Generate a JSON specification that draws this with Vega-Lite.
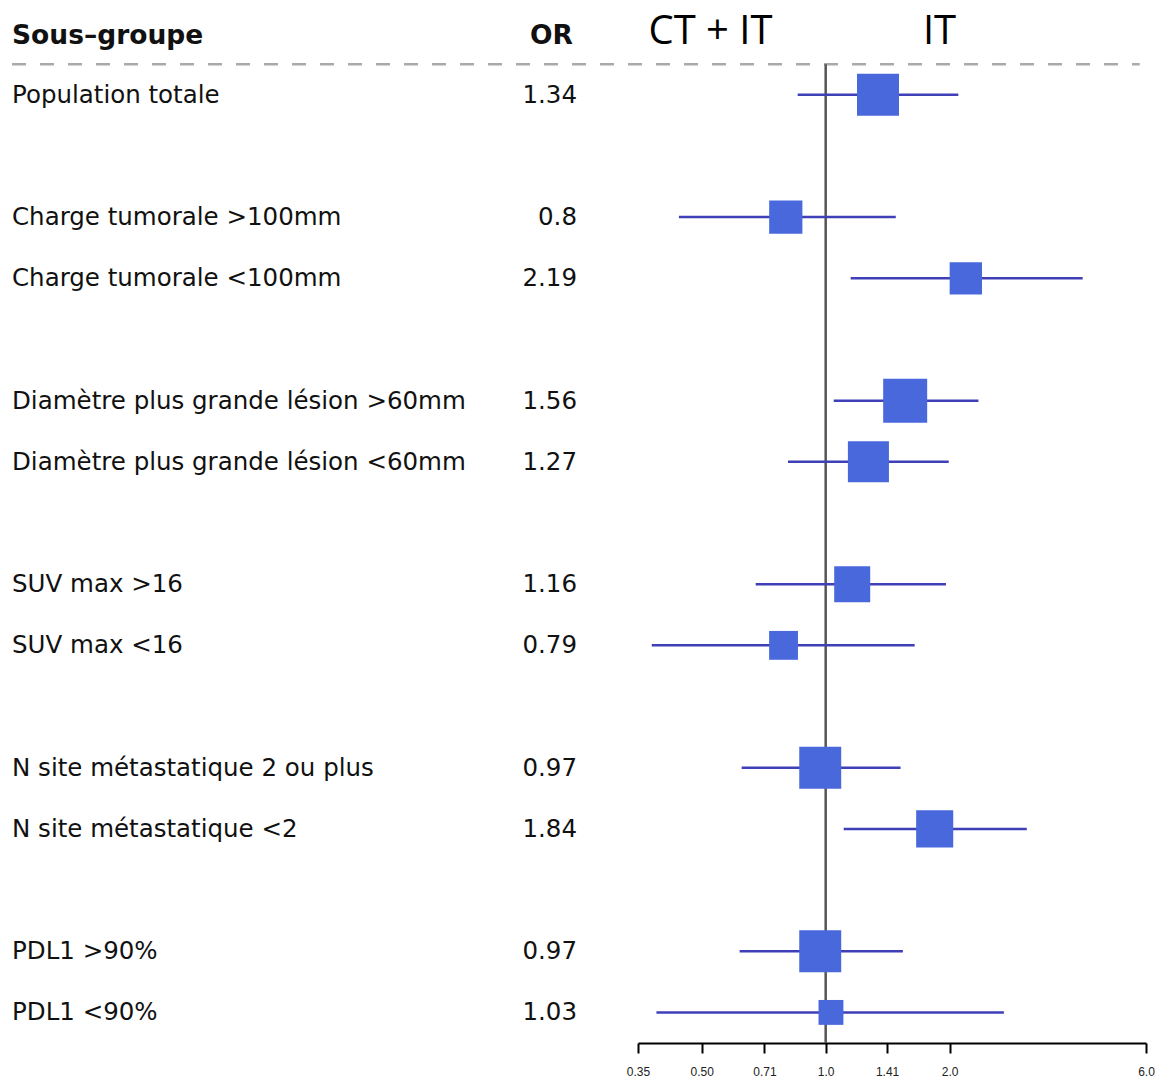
{
  "$schema": "https://vega.github.io/schema/vega-lite/v6.json",
  "background": "white",
  "padding": {"left": 10, "top": 3, "right": 0, "bottom": 0},
  "spacing": 61,
  "bounds": "flush",
  "config": {"view": {"stroke": null}},
  "datasets": {
    "rows": [
      {"label": "Population totale", "or": 1.34, "lo": 0.855, "hi": 2.10, "w": 91},
      {"label": "Charge tumorale >100mm", "or": 0.8, "lo": 0.44, "hi": 1.48, "w": 57},
      {"label": "Charge tumorale <100mm", "or": 2.19, "lo": 1.15, "hi": 4.21, "w": 54},
      {"label": "Diamètre plus grande lésion >60mm", "or": 1.56, "lo": 1.046, "hi": 2.35, "w": 100},
      {"label": "Diamètre plus grande lésion <60mm", "or": 1.27, "lo": 0.81, "hi": 1.99, "w": 87},
      {"label": "SUV max >16", "or": 1.16, "lo": 0.676, "hi": 1.96, "w": 67},
      {"label": "SUV max <16", "or": 0.79, "lo": 0.378, "hi": 1.645, "w": 43},
      {"label": "N site métastatique 2 ou plus", "or": 0.97, "lo": 0.625, "hi": 1.52, "w": 91},
      {"label": "N site métastatique <2", "or": 1.84, "lo": 1.106, "hi": 3.08, "w": 71},
      {"label": "PDL1 >90%", "or": 0.97, "lo": 0.618, "hi": 1.54, "w": 91},
      {"label": "PDL1 <90%", "or": 1.03, "lo": 0.388, "hi": 2.71, "w": 32}
    ],
    "heads": [
      {"head": "Sous–groupe", "col": "label"},
      {"head": "OR", "col": "or"},
      {"head": "CT + IT", "col": "left"},
      {"head": "IT", "col": "right"}
    ]
  },
  "hconcat": [
    {
      "width": 565,
      "height": 1040,
      "layer": [
        {
          "data": {"values": [{"line": "sep"}]},
          "mark": {"type": "rule", "color": "#aaaaaa", "strokeWidth": 2.5, "strokeDash": [14, 14]},
          "encoding": {
            "x": {"datum": 0, "type": "quantitative", "scale": {"domain": [0, 1], "nice": false, "zero": false}, "axis": null},
            "x2": {"datum": 1.996},
            "y": {"datum": "Population totale", "type": "nominal", "bandPosition": 0, "scale": {"type": "band", "domain": ["_h", "Population totale", "_s1", "Charge tumorale >100mm", "Charge tumorale <100mm", "_s2", "Diamètre plus grande lésion >60mm", "Diamètre plus grande lésion <60mm", "_s3", "SUV max >16", "SUV max <16", "_s4", "N site métastatique 2 ou plus", "N site métastatique <2", "_s5", "PDL1 >90%", "PDL1 <90%"], "paddingInner": 0, "paddingOuter": 0}, "axis": null}
          }
        },
        {
          "data": {"name": "rows"},
          "mark": {"type": "text", "align": "left", "baseline": "middle", "font": "DejaVu Sans", "fontSize": 24.5, "color": "#111111", "dy": 1},
          "encoding": {
            "x": {"datum": 0, "type": "quantitative", "scale": {"domain": [0, 1], "nice": false, "zero": false}, "axis": null},
            "y": {"field": "label", "type": "nominal", "scale": {"type": "band", "domain": ["_h", "Population totale", "_s1", "Charge tumorale >100mm", "Charge tumorale <100mm", "_s2", "Diamètre plus grande lésion >60mm", "Diamètre plus grande lésion <60mm", "_s3", "SUV max >16", "SUV max <16", "_s4", "N site métastatique 2 ou plus", "N site métastatique <2", "_s5", "PDL1 >90%", "PDL1 <90%"], "paddingInner": 0, "paddingOuter": 0}, "axis": null},
            "text": {"field": "label", "type": "nominal"}
          }
        },
        {
          "data": {"name": "rows"},
          "mark": {"type": "text", "align": "right", "baseline": "middle", "font": "DejaVu Sans", "fontSize": 24.5, "color": "#111111", "dy": 1},
          "encoding": {
            "x": {"datum": 1, "type": "quantitative", "scale": {"domain": [0, 1], "nice": false, "zero": false}, "axis": null},
            "y": {"field": "label", "type": "nominal", "scale": {"type": "band", "domain": ["_h", "Population totale", "_s1", "Charge tumorale >100mm", "Charge tumorale <100mm", "_s2", "Diamètre plus grande lésion >60mm", "Diamètre plus grande lésion <60mm", "_s3", "SUV max >16", "SUV max <16", "_s4", "N site métastatique 2 ou plus", "N site métastatique <2", "_s5", "PDL1 >90%", "PDL1 <90%"], "paddingInner": 0, "paddingOuter": 0}, "axis": null},
            "text": {"field": "or", "type": "nominal"}
          }
        },
        {
          "data": {"name": "heads"},
          "transform": [{"filter": "datum.col == 'label'"}],
          "mark": {"type": "text", "align": "left", "baseline": "middle", "font": "DejaVu Sans", "fontWeight": "bold", "fontSize": 26.5, "color": "#111111", "dy": 2},
          "encoding": {
            "x": {"datum": 0, "type": "quantitative", "scale": {"domain": [0, 1], "nice": false, "zero": false}, "axis": null},
            "y": {"datum": "_h", "type": "nominal", "scale": {"type": "band", "domain": ["_h", "Population totale", "_s1", "Charge tumorale >100mm", "Charge tumorale <100mm", "_s2", "Diamètre plus grande lésion >60mm", "Diamètre plus grande lésion <60mm", "_s3", "SUV max >16", "SUV max <16", "_s4", "N site métastatique 2 ou plus", "N site métastatique <2", "_s5", "PDL1 >90%", "PDL1 <90%"], "paddingInner": 0, "paddingOuter": 0}, "axis": null},
            "text": {"field": "head", "type": "nominal"}
          }
        },
        {
          "data": {"name": "heads"},
          "transform": [{"filter": "datum.col == 'or'"}],
          "mark": {"type": "text", "align": "right", "baseline": "middle", "font": "DejaVu Sans", "fontWeight": "bold", "fontSize": 26.5, "color": "#111111", "dy": 2, "dx": -4},
          "encoding": {
            "x": {"datum": 1, "type": "quantitative", "scale": {"domain": [0, 1], "nice": false, "zero": false}, "axis": null},
            "y": {"datum": "_h", "type": "nominal", "scale": {"type": "band", "domain": ["_h", "Population totale", "_s1", "Charge tumorale >100mm", "Charge tumorale <100mm", "_s2", "Diamètre plus grande lésion >60mm", "Diamètre plus grande lésion <60mm", "_s3", "SUV max >16", "SUV max <16", "_s4", "N site métastatique 2 ou plus", "N site métastatique <2", "_s5", "PDL1 >90%", "PDL1 <90%"], "paddingInner": 0, "paddingOuter": 0}, "axis": null},
            "text": {"field": "head", "type": "nominal"}
          }
        }
      ]
    },
    {
      "width": 508,
      "height": 1040,
      "layer": [
        {
          "data": {"values": [{"line": "ref"}]},
          "mark": {"type": "rule", "color": "#555555", "strokeWidth": 2.5},
          "encoding": {
            "x": {"datum": 1, "type": "quantitative", "scale": {"type": "log", "domain": [0.35, 6], "nice": false}, "axis": {"values": [0.35, 0.5, 0.71, 1, 1.41, 2, 6], "labelExpr": "(datum.value < 1 || datum.value == 1.41) ? format(datum.value, '.2f') : format(datum.value, '.1f')", "title": null, "grid": false, "domainColor": "#000000", "domainWidth": 2, "tickColor": "#000000", "tickWidth": 2, "tickSize": 10, "labelFont": "Liberation Sans", "labelFontSize": 12, "labelColor": "#222222", "labelPadding": 13, "labelFlush": false, "labelOverlap": false}},
            "y": {"datum": "Population totale", "type": "nominal", "bandPosition": 0, "scale": {"type": "band", "domain": ["_h", "Population totale", "_s1", "Charge tumorale >100mm", "Charge tumorale <100mm", "_s2", "Diamètre plus grande lésion >60mm", "Diamètre plus grande lésion <60mm", "_s3", "SUV max >16", "SUV max <16", "_s4", "N site métastatique 2 ou plus", "N site métastatique <2", "_s5", "PDL1 >90%", "PDL1 <90%"], "paddingInner": 0, "paddingOuter": 0}, "axis": null},
            "y2": {"value": "height"}
          }
        },
        {
          "data": {"name": "rows"},
          "mark": {"type": "rule", "color": "#3f3fb8", "strokeWidth": 2.5},
          "encoding": {
            "x": {"field": "lo", "type": "quantitative", "scale": {"type": "log", "domain": [0.35, 6], "nice": false}, "axis": {"values": [0.35, 0.5, 0.71, 1, 1.41, 2, 6], "labelExpr": "(datum.value < 1 || datum.value == 1.41) ? format(datum.value, '.2f') : format(datum.value, '.1f')", "title": null, "grid": false, "domainColor": "#000000", "domainWidth": 2, "tickColor": "#000000", "tickWidth": 2, "tickSize": 10, "labelFont": "Liberation Sans", "labelFontSize": 12, "labelColor": "#222222", "labelPadding": 13, "labelFlush": false, "labelOverlap": false}},
            "x2": {"field": "hi"},
            "y": {"field": "label", "type": "nominal", "scale": {"type": "band", "domain": ["_h", "Population totale", "_s1", "Charge tumorale >100mm", "Charge tumorale <100mm", "_s2", "Diamètre plus grande lésion >60mm", "Diamètre plus grande lésion <60mm", "_s3", "SUV max >16", "SUV max <16", "_s4", "N site métastatique 2 ou plus", "N site métastatique <2", "_s5", "PDL1 >90%", "PDL1 <90%"], "paddingInner": 0, "paddingOuter": 0}, "axis": null}
          }
        },
        {
          "data": {"name": "rows"},
          "mark": {"type": "square", "filled": true, "opacity": 1, "color": "#4868dc", "strokeWidth": 0},
          "encoding": {
            "x": {"field": "or", "type": "quantitative", "scale": {"type": "log", "domain": [0.35, 6], "nice": false}, "axis": {"values": [0.35, 0.5, 0.71, 1, 1.41, 2, 6], "labelExpr": "(datum.value < 1 || datum.value == 1.41) ? format(datum.value, '.2f') : format(datum.value, '.1f')", "title": null, "grid": false, "domainColor": "#000000", "domainWidth": 2, "tickColor": "#000000", "tickWidth": 2, "tickSize": 10, "labelFont": "Liberation Sans", "labelFontSize": 12, "labelColor": "#222222", "labelPadding": 13, "labelFlush": false, "labelOverlap": false}},
            "y": {"field": "label", "type": "nominal", "scale": {"type": "band", "domain": ["_h", "Population totale", "_s1", "Charge tumorale >100mm", "Charge tumorale <100mm", "_s2", "Diamètre plus grande lésion >60mm", "Diamètre plus grande lésion <60mm", "_s3", "SUV max >16", "SUV max <16", "_s4", "N site métastatique 2 ou plus", "N site métastatique <2", "_s5", "PDL1 >90%", "PDL1 <90%"], "paddingInner": 0, "paddingOuter": 0}, "axis": null},
            "size": {"field": "w", "type": "quantitative", "scale": {"domain": [0, 100], "range": [0, 1936]}, "legend": null}
          }
        },
        {
          "data": {"name": "heads"},
          "transform": [{"filter": "datum.col == 'left'"}],
          "mark": {"type": "text", "align": "center", "baseline": "middle", "font": "Open Sans", "fontSize": 40, "color": "#000000", "dy": -2},
          "encoding": {
            "x": {"datum": 0.525, "type": "quantitative", "scale": {"type": "log", "domain": [0.35, 6], "nice": false}, "axis": {"values": [0.35, 0.5, 0.71, 1, 1.41, 2, 6], "labelExpr": "(datum.value < 1 || datum.value == 1.41) ? format(datum.value, '.2f') : format(datum.value, '.1f')", "title": null, "grid": false, "domainColor": "#000000", "domainWidth": 2, "tickColor": "#000000", "tickWidth": 2, "tickSize": 10, "labelFont": "Liberation Sans", "labelFontSize": 12, "labelColor": "#222222", "labelPadding": 13, "labelFlush": false, "labelOverlap": false}},
            "y": {"datum": "_h", "type": "nominal", "scale": {"type": "band", "domain": ["_h", "Population totale", "_s1", "Charge tumorale >100mm", "Charge tumorale <100mm", "_s2", "Diamètre plus grande lésion >60mm", "Diamètre plus grande lésion <60mm", "_s3", "SUV max >16", "SUV max <16", "_s4", "N site métastatique 2 ou plus", "N site métastatique <2", "_s5", "PDL1 >90%", "PDL1 <90%"], "paddingInner": 0, "paddingOuter": 0}, "axis": null},
            "text": {"field": "head", "type": "nominal"}
          }
        },
        {
          "data": {"name": "heads"},
          "transform": [{"filter": "datum.col == 'right'"}],
          "mark": {"type": "text", "align": "center", "baseline": "middle", "font": "Open Sans", "fontSize": 40, "color": "#000000", "dy": -2},
          "encoding": {
            "x": {"datum": 1.89, "type": "quantitative", "scale": {"type": "log", "domain": [0.35, 6], "nice": false}, "axis": {"values": [0.35, 0.5, 0.71, 1, 1.41, 2, 6], "labelExpr": "(datum.value < 1 || datum.value == 1.41) ? format(datum.value, '.2f') : format(datum.value, '.1f')", "title": null, "grid": false, "domainColor": "#000000", "domainWidth": 2, "tickColor": "#000000", "tickWidth": 2, "tickSize": 10, "labelFont": "Liberation Sans", "labelFontSize": 12, "labelColor": "#222222", "labelPadding": 13, "labelFlush": false, "labelOverlap": false}},
            "y": {"datum": "_h", "type": "nominal", "scale": {"type": "band", "domain": ["_h", "Population totale", "_s1", "Charge tumorale >100mm", "Charge tumorale <100mm", "_s2", "Diamètre plus grande lésion >60mm", "Diamètre plus grande lésion <60mm", "_s3", "SUV max >16", "SUV max <16", "_s4", "N site métastatique 2 ou plus", "N site métastatique <2", "_s5", "PDL1 >90%", "PDL1 <90%"], "paddingInner": 0, "paddingOuter": 0}, "axis": null},
            "text": {"field": "head", "type": "nominal"}
          }
        }
      ]
    }
  ]
}
